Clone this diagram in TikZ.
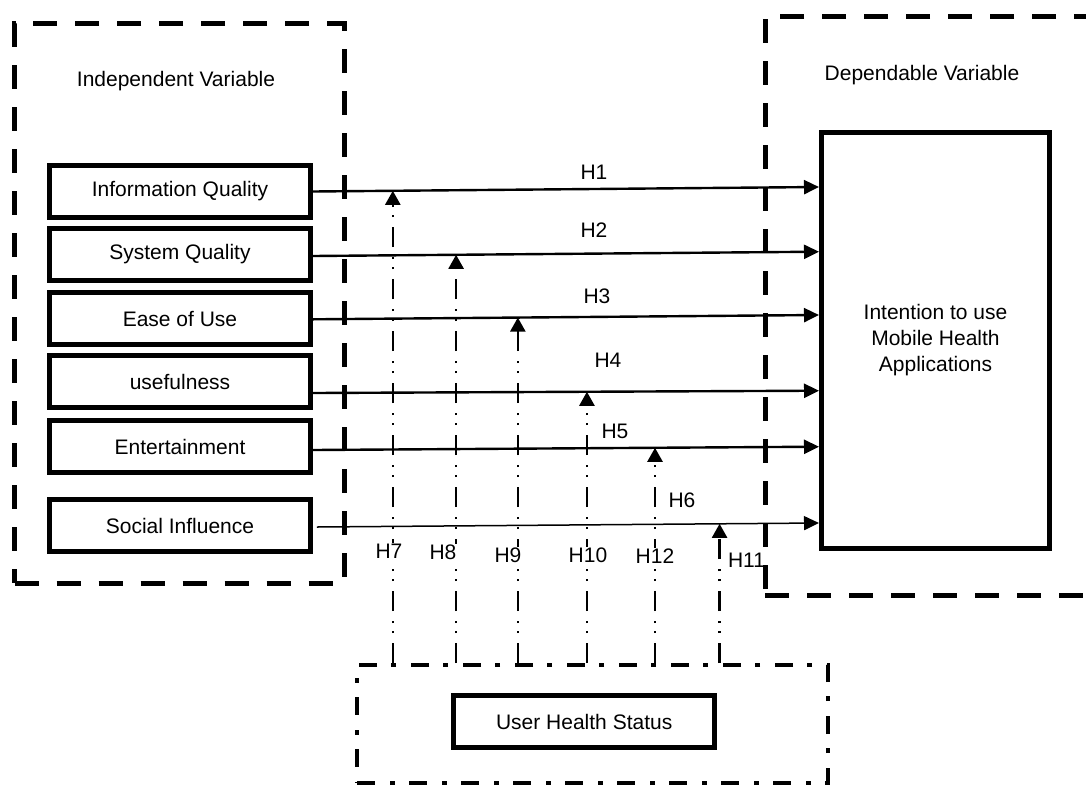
\documentclass[tikz,border=0pt]{standalone}
\usepackage{fontspec}
\setmainfont{Liberation Sans}
\usetikzlibrary{arrows.meta,calc}
\begin{document}
\begin{tikzpicture}[x=1pt,y=-1pt,
  every node/.style={font=\fontsize{21}{26}\selectfont},
  varbox/.style={draw,line width=4.7pt,minimum width=261pt,minimum height=52pt,inner sep=0pt},
  bigbox/.style={draw,line width=5pt,minimum width=228pt,minimum height=416pt,inner sep=0pt,align=center},
  groupbox/.style={draw,line width=5pt,dash pattern=on 24pt off 18pt,inner sep=0pt},
  modgroup/.style={draw,line width=4pt,dash pattern=on 18pt off 15pt on 5pt off 14pt,inner sep=0pt},
  hyp/.style={line width=2.4pt,-{Triangle[length=15pt,width=14pt]}},
  hypthin/.style={line width=1.5pt,-{Triangle[length=15pt,width=14pt]}},
  modarrow/.style={line width=2.4pt,dash pattern=on 20pt off 10pt on 2pt off 8pt on 2pt off 10pt,
    -{Triangle[length=14pt,width=15pt]}},
  hlabel/.style={inner sep=0pt},
  vlabel/.style={fill=white,inner sep=1pt}
]
\useasboundingbox (0,0) rectangle (1086,785);

% independent variables
\node[varbox] (iq) at (180,191.5) {Information Quality};
\node[varbox] (sq) at (180,254.5) {System Quality};
\node[varbox] (eu) at (180,318.5) {Ease of Use};
\node[varbox] (us) at (180,381.5) {usefulness};
\node[varbox] (en) at (180,446.5) {Entertainment};
\node[varbox] (si) at (180,525.5) {Social Influence};

% dependent variable
\node[bigbox] (intent) at (935.5,340.5) {Intention to use\\Mobile Health\\Applications};

% moderator
\node[modgroup,minimum width=471pt,minimum height=118pt] (modbox) at (592.5,724) {};
\node[varbox] (uhs) at (584.2,721.5) {User Health Status};

% direct hypotheses H1--H6
\draw[hyp] (iq.east) -- coordinate[pos=0.158] (m7) ($(intent.west)+(0,-153.5)$);
\draw[hyp] ($(sq.east)+(0,1.5)$) -- coordinate[pos=0.283] (m8) ($(intent.west)+(0,-88.8)$);
\draw[hyp] ($(eu.east)+(0,0.8)$) -- coordinate[pos=0.405] (m9) ($(intent.west)+(0,-25.5)$);
\draw[hyp] ($(us.east)+(0,11.5)$) -- coordinate[pos=0.5415] (m10) ($(intent.west)+(0,50.2)$);
\draw[hyp] ($(en.east)+(0,3.5)$) -- coordinate[pos=0.676] (m12) ($(intent.west)+(0,106.2)$);
\draw[hypthin] ($(si.east)+(4,1.5)$) -- coordinate[pos=0.802] (m11) ($(intent.west)+(0,182.5)$);

\node[hlabel] (l1) at (594,172.5) {H1};
\node[hlabel] (l2) at (594,230) {H2};
\node[hlabel] (l3) at (597,296.5) {H3};
\node[hlabel] (l4) at (608,360.5) {H4};
\node[hlabel] (l5) at (615,431) {H5};
\node[hlabel] (l6) at (682,500) {H6};

% moderating hypotheses H7--H12
\draw[modarrow] (m7 |- modbox.north) -- (m7);
\draw[modarrow] (m8 |- modbox.north) -- (m8);
\draw[modarrow] (m9 |- modbox.north) -- (m9);
\draw[modarrow] (m10 |- modbox.north) -- (m10);
\draw[modarrow] (m12 |- modbox.north) -- (m12);
\draw[modarrow] (m11 |- modbox.north) -- (m11);

\node[vlabel] (l7) at (389,551) {H7};
\node[vlabel] (l8) at (443,552) {H8};
\node[vlabel] (l9) at (508,555) {H9};
\node[vlabel] (l10) at (588,555) {H10};
\node[vlabel] (l12) at (655,556.5) {H12};
\node[vlabel,inner sep=0pt] (l11) at (746.5,560) {H11};

% variable groups
\node[groupbox,minimum width=329.5pt,minimum height=559.5pt] (indep) at (179.25,303.25) {};
\node (indeplabel) at (176,81) {Independent Variable};
\node[groupbox,minimum width=360pt,minimum height=579pt] (dep) at (945,305.5) {};
\node (deplabel) at (922,75) {Dependable Variable};
\end{tikzpicture}
\end{document}
